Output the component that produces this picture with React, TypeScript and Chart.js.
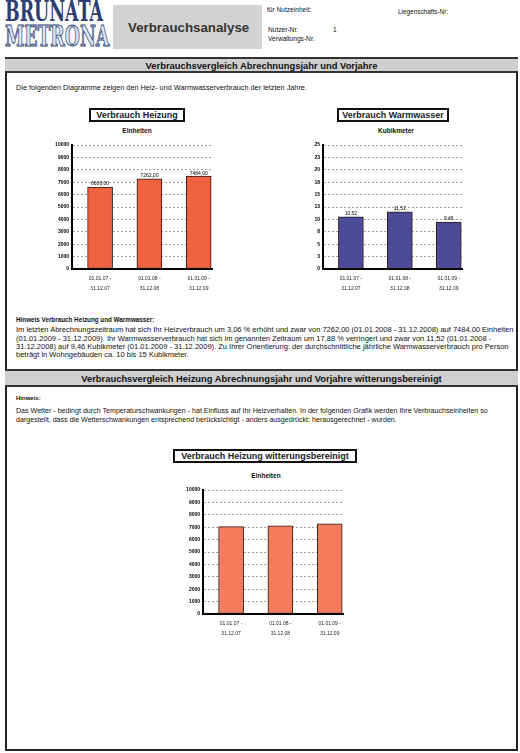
import React, { useEffect, useRef } from "react";
import { Chart, registerables } from "chart.js";

Chart.register(...registerables);

const FONT = "'Liberation Sans', Arial, sans-serif";
Chart.defaults.font.family = FONT;

// ---------- data ----------
const periodLabels = [
  ["01.01.07 -", "31.12.07"],
  ["01.01.08 -", "31.12.08"],
  ["01.01.09 -", "31.12.09"],
];
const heatingValues = [6606.0, 7262.0, 7484.0];
const waterValues = [10.52, 11.52, 9.46];
const weatherAdjustedValues = [7050, 7120, 7280];

const heatingAxisMax = 10000;
const heatingAxisStep = 1000;
const waterAxisMax = 25;
const waterAxisStep = 2.5;

const headerTitle = "Verbrauchsanalyse";
const section1Title = "Verbrauchsvergleich Abrechnungsjahr und Vorjahre";
const section2Title = "Verbrauchsvergleich Heizung Abrechnungsjahr und Vorjahre witterungsbereinigt";
const introText = "Die folgenden Diagramme zeigen den Heiz- und Warmwasserverbrauch der letzten Jahre.";
const hint1Title = "Hinweis Verbrauch Heizung und Warmwasser:";
const hint1Lines = [
  "Im letzten Abrechnungszeitraum hat sich Ihr Heizverbrauch um 3,06 % erhöht und zwar von 7262,00 (01.01.2008 - 31.12.2008) auf 7484,00 Einheiten",
  "(01.01.2009 - 31.12.2009). Ihr Warmwasserverbrauch hat sich im genannten Zeitraum um 17,88 % verringert und zwar von 11,52 (01.01.2008 -",
  "31.12.2008) auf 9,46 Kubikmeter (01.01.2009 - 31.12.2009). Zu Ihrer Orientierung: der durchschnittliche jährliche Warmwasserverbrauch pro Person",
  "beträgt in Wohngebäuden ca. 10 bis 15 Kubikmeter.",
];
const hint2Title = "Hinweis:";
const hint2Lines = [
  "Das Wetter - bedingt durch Temperaturschwankungen - hat Einfluss auf Ihr Heizverhalten. In der folgenden Grafik werden Ihre Verbrauchseinheiten so",
  "dargestellt, dass die Wetterschwankungen entsprechend berücksichtigt - anders ausgedrückt: herausgerechnet - wurden.",
];

// ---------- chart ----------
const valueLabelPlugin = {
  id: "valueLabels",
  afterDatasetsDraw(chart: any, _args: any, opts: any) {
    if (!opts || !opts.show) return;
    const meta = chart.getDatasetMeta(0);
    const ds = chart.data.datasets[0];
    const ctx = chart.ctx;
    ctx.save();
    ctx.font = `5px ${FONT}`;
    ctx.fillStyle = "#000";
    ctx.textAlign = "center";
    ctx.textBaseline = "bottom";
    meta.data.forEach((el: any, i: number) => {
      const v = ds.data[i].y as number;
      ctx.fillText(v.toFixed(2).replace(".", ","), el.x, el.y - 0.5);
    });
    ctx.restore();
  },
};

type Area = { left: number; top: number; right: number; bottom: number };

function BarChart(props: {
  area: Area;
  values: number[];
  color: string;
  yMax: number;
  yStep: number;
  roundTicks?: boolean;
  showValues?: boolean;
}) {
  const ref = useRef<HTMLCanvasElement>(null);
  const { area } = props;
  const yW = 32;
  const padTop = 10;
  const padRight = 6;
  const xH = 36;
  const cx = area.left - yW;
  const cy = area.top - padTop;
  const w = area.right + padRight - cx;
  const h = area.bottom + xH - cy;

  useEffect(() => {
    if (!ref.current) return;
    const chart = new Chart(ref.current, {
      type: "bar",
      data: {
        datasets: [
          {
            data: props.values.map((v, i) => ({ x: i, y: v })),
            backgroundColor: props.color,
            borderColor: "#2a1a14",
            borderWidth: 1,
            borderSkipped: false,
            barThickness: 25,
          } as any,
        ],
      },
      options: {
        animation: false,
        responsive: false,
        devicePixelRatio: 1,
        layout: { padding: { top: padTop, right: padRight, left: 0, bottom: 0 } },
        plugins: {
          legend: { display: false },
          tooltip: { enabled: false },
          valueLabels: { show: !!props.showValues },
        } as any,
        scales: {
          x: {
            type: "linear",
            offset: false,
            min: -0.57,
            max: 2.27,
            grid: { display: false, drawTicks: false, offset: false },
            border: { display: true, color: "#000", width: 2 },
            ticks: {
              stepSize: 1,
              includeBounds: false,
              autoSkip: false,
              maxRotation: 0,
              padding: 5,
              color: "#222",
              font: { size: 5, lineHeight: 2 },
              callback: (v: any) => periodLabels[v as number] ?? "",
            } as any,
            afterFit: (s: any) => {
              s.height = xH;
            },
          },
          y: {
            min: 0,
            max: props.yMax,
            grid: { color: "#a0a0a0", drawTicks: false, lineWidth: 1 },
            border: { display: true, color: "#000", width: 2, dash: [2, 2] },
            ticks: {
              stepSize: props.yStep,
              padding: 3,
              color: "#000",
              font: { size: 5, weight: "bold" },
              callback: (v: any) => (props.roundTicks ? String(Math.round(v)) : String(v)),
            },
            afterFit: (s: any) => {
              s.width = yW;
            },
          },
        },
      },
      plugins: [valueLabelPlugin],
    });
    return () => chart.destroy();
  }, []);

  return (
    <canvas
      ref={ref}
      width={w}
      height={h}
      style={{ position: "absolute", left: cx, top: cy, width: w, height: h }}
    />
  );
}

// ---------- text helpers ----------
function T(p: {
  x: number;
  y: number;
  size: number;
  bold?: boolean;
  center?: boolean;
  color?: string;
  children: any;
}) {
  return (
    <div
      style={{
        position: "absolute",
        left: p.x,
        top: p.y - p.size / 2,
        fontSize: p.size,
        lineHeight: 1,
        fontWeight: p.bold ? "bold" : "normal",
        whiteSpace: "nowrap",
        color: p.color || "#111",
        transform: p.center ? "translateX(-50%)" : undefined,
      }}
    >
      {p.children}
    </div>
  );
}

function TitleBox(p: { x: number; y: number; w: number; h: number; text: string }) {
  return (
    <div
      style={{
        position: "absolute",
        left: p.x,
        top: p.y,
        width: p.w,
        height: p.h,
        boxSizing: "border-box",
        border: "2px solid #111",
        background: "#fff",
        display: "flex",
        alignItems: "center",
        justifyContent: "center",
        fontWeight: "bold",
        fontSize: 9,
        color: "#222",
        whiteSpace: "nowrap",
      }}
    >
      {p.text}
    </div>
  );
}

function Band(p: { top: number; h: number; text: string }) {
  return (
    <div
      style={{
        position: "absolute",
        left: 5,
        top: p.top,
        width: 513,
        height: p.h,
        boxSizing: "border-box",
        background: "#cfcfcf",
        borderTop: "2px solid #333",
        borderBottom: "2px solid #333",
        display: "flex",
        alignItems: "center",
        justifyContent: "center",
        fontWeight: "bold",
        fontSize: 9.4,
        color: "#111",
        whiteSpace: "nowrap",
      }}
    >
      {p.text}
    </div>
  );
}

export default function App() {
  return (
    <div
      style={{
        position: "absolute",
        left: 0,
        top: 0,
        width: 520,
        height: 753,
        background: "#fff",
        fontFamily: FONT,
        overflow: "hidden",
      }}
    >
      {/* logo */}
      <div
        style={{
          position: "absolute",
          left: 5,
          top: -2,
          fontFamily: "'DejaVu Serif', serif",
          fontWeight: "bold",
          fontSize: 28,
          lineHeight: 1,
          color: "#2d3e70",
          transform: "scaleX(0.62)",
          transformOrigin: "left top",
        }}
      >
        BRUNATA
      </div>
      <div
        style={{
          position: "absolute",
          left: 5,
          top: 23,
          fontFamily: "'DejaVu Serif', serif",
          fontWeight: "bold",
          fontSize: 28,
          lineHeight: 1,
          color: "#dde5f3",
          WebkitTextStroke: "1px #2d3e70",
          transform: "scaleX(0.62)",
          transformOrigin: "left top",
        } as any}
      >
        METRONA
      </div>
      <div
        style={{
          position: "absolute",
          left: 113,
          top: 5,
          width: 149,
          height: 44,
          background: "#d3d3d3",
        }}
      />
      <T x={128} y={28} size={13.3} bold color="#333">
        {headerTitle}
      </T>
      <T x={267} y={10} size={6.6}>für Nutzeinheit:</T>
      <T x={398} y={12} size={6.4}>Liegenschafts-Nr:</T>
      <T x={268} y={30} size={6.6}>Nutzer-Nr.</T>
      <T x={333} y={30} size={6.6}>1</T>
      <T x={268} y={39} size={6.6}>Verwaltungs-Nr.</T>

      {/* frame */}
      <div
        style={{
          position: "absolute",
          left: 5,
          top: 57,
          width: 513,
          height: 694,
          boxSizing: "border-box",
          border: "2px solid #222",
        }}
      />
      <Band top={57} h={16} text={section1Title} />
      <T x={16} y={88} size={7.3}>{introText}</T>

      <TitleBox x={89} y={108} w={96} h={14} text="Verbrauch Heizung" />
      <TitleBox x={337} y={108} w={112} h={14} text="Verbrauch Warmwasser" />
      <T x={137} y={131} size={6.5} bold center>Einheiten</T>
      <T x={396} y={131} size={6.5} bold center>Kubikmeter</T>

      <BarChart
        area={{ left: 72, top: 145, right: 212, bottom: 269 }}
        values={heatingValues}
        color="#ef613f"
        yMax={heatingAxisMax}
        yStep={heatingAxisStep}
        showValues
      />
      <BarChart
        area={{ left: 323, top: 145, right: 462, bottom: 269 }}
        values={waterValues}
        color="#4c4b97"
        yMax={waterAxisMax}
        yStep={waterAxisStep}
        roundTicks
        showValues
      />

      <T x={16} y={320} size={6.3} bold>{hint1Title}</T>
      {hint1Lines.map((l, i) => (
        <T key={i} x={16} y={330 + i * 8.3} size={7.5}>{l}</T>
      ))}

      <Band top={369} h={18} text={section2Title} />
      <T x={16} y={398} size={6} bold>{hint2Title}</T>
      {hint2Lines.map((l, i) => (
        <T key={i} x={16} y={412 + i * 9} size={7.1}>{l}</T>
      ))}

      <TitleBox x={173} y={449} w={184} h={14} text="Verbrauch Heizung witterungsbereinigt" />
      <T x={266} y={476} size={6.5} bold center>Einheiten</T>
      <BarChart
        area={{ left: 203, top: 490, right: 343, bottom: 614 }}
        values={weatherAdjustedValues}
        color="#f27c5c"
        yMax={heatingAxisMax}
        yStep={heatingAxisStep}
      />
    </div>
  );
}
